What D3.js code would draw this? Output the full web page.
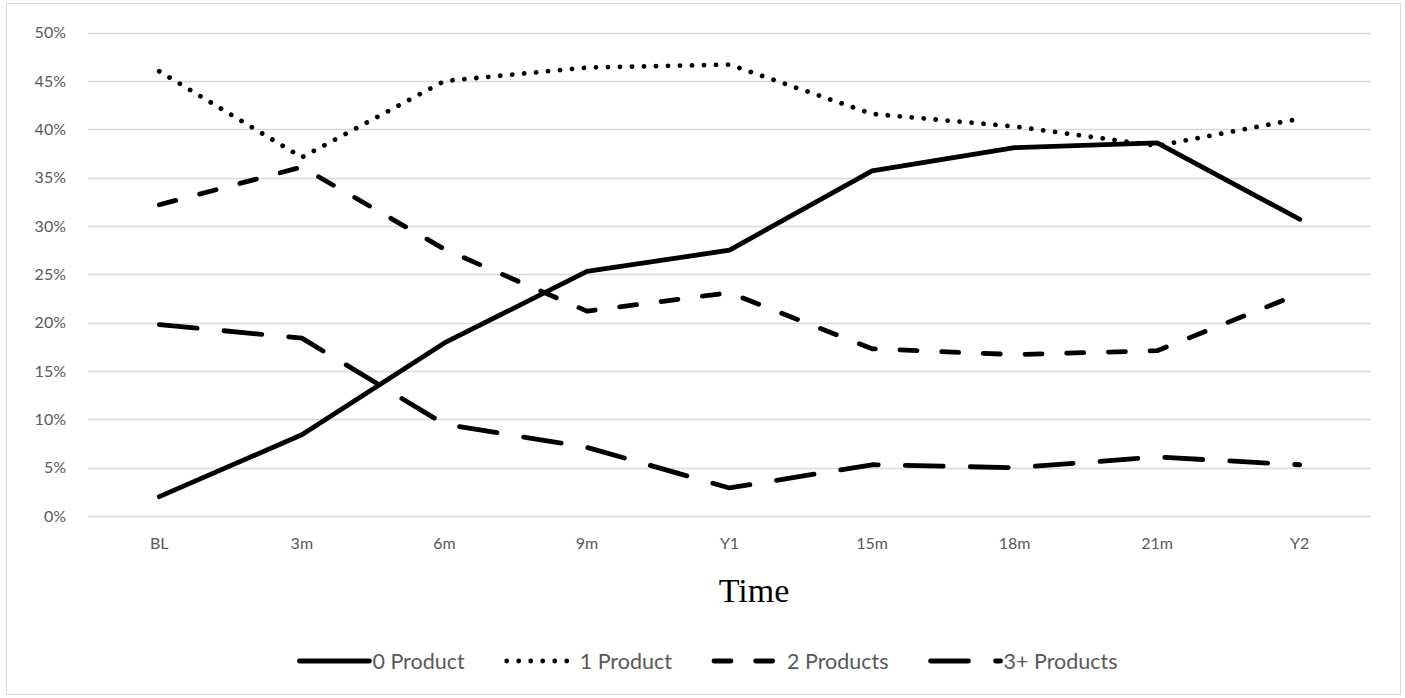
<!DOCTYPE html>
<html>
<head>
<meta charset="utf-8">
<script src="https://cdn.jsdelivr.net/npm/d3@7"></script>
<style>
  html, body { margin: 0; padding: 0; background: #fff; }
  svg { display: block; }
</style>
</head>
<body>
<svg id="chart" width="1405" height="698"></svg>
<script>
const categories = ["BL", "3m", "6m", "9m", "Y1", "15m", "18m", "21m", "Y2"];
const seriesNames = ["0 Product", "1 Product", "2 Products", "3+ Products"];
const product0 = [2.0, 8.4, 17.9, 25.3, 27.5, 35.7, 38.1, 38.6, 30.7];
const product1 = [46.0, 37.1, 45.0, 46.4, 46.7, 41.6, 40.3, 38.3, 41.1];
const product2 = [32.2, 36.1, 27.6, 21.2, 23.1, 17.3, 16.7, 17.1, 23.0];
const product3 = [19.8, 18.4, 9.5, 7.1, 2.9, 5.3, 5.0, 6.1, 5.3];
const yTicks = [0, 5, 10, 15, 20, 25, 30, 35, 40, 45, 50];
const xTitle = "Time";

const seriesValues = [product0, product1, product2, product3];
const dashes = [null, "0.01 12", "17 24.7", "38 27"];

const svg = d3.select("#chart");
const font = "Lato, 'Open Sans', sans-serif";
const grey = "#595959";

// chart border
svg.append("rect")
  .attr("x", 6.5).attr("y", 3.5).attr("width", 1394).attr("height", 691)
  .attr("fill", "#fff").attr("stroke", "#d9d9d9").attr("stroke-width", 1);

const plotL = 88, plotR = 1371, plotT = 32.7, plotB = 516;

const x = d3.scaleBand().domain(categories).range([plotL, plotR]).padding(0);
const y = d3.scaleLinear().domain([0, 50]).range([plotB, plotT]);

// gridlines
svg.append("g")
  .selectAll("line").data(yTicks).join("line")
  .attr("x1", plotL).attr("x2", plotR)
  .attr("y1", d => Math.round(y(d)) + 0.5).attr("y2", d => Math.round(y(d)) + 0.5)
  .attr("stroke", "#d9d9d9").attr("stroke-width", 1.3);

// y axis
const yAxis = d3.axisLeft(y).tickValues(yTicks).tickFormat(d => d + "%").tickSize(0).tickPadding(0);
const gy = svg.append("g").attr("transform", `translate(66,0)`).call(yAxis);
gy.select(".domain").remove();
gy.selectAll("text").attr("fill", grey).style("font-family", font).style("font-size", "16px");

// x axis
const xAxis = d3.axisBottom(x).tickSize(0).tickPadding(0);
const gx = svg.append("g").attr("transform", `translate(0,${plotB + 22})`).call(xAxis);
gx.select(".domain").remove();
gx.selectAll("text").attr("fill", grey).style("font-family", font).style("font-size", "16px");

// axis title
svg.append("text")
  .attr("x", 754).attr("y", 602)
  .attr("text-anchor", "middle")
  .style("font-family", "'Liberation Serif', 'Times New Roman', serif")
  .style("font-size", "34px")
  .attr("fill", "#000")
  .text(xTitle);

// lines
const line = d3.line()
  .x((d, i) => x(categories[i]) + x.bandwidth() / 2)
  .y(d => y(d));

const gLines = svg.append("g");
seriesValues.forEach((vals, k) => {
  gLines.append("path")
    .datum(vals)
    .attr("d", line)
    .attr("fill", "none")
    .attr("stroke", "#000")
    .attr("stroke-width", 4.8)
    .attr("stroke-linecap", "round")
    .attr("stroke-linejoin", "round")
    .attr("stroke-dasharray", dashes[k]);
});

// legend
const legY = 661;
const sampleLen = 70;
const leg = svg.append("g");
const items = seriesNames.map((name, k) => {
  const g = leg.append("g");
  g.append("line")
    .attr("x1", 0).attr("x2", sampleLen)
    .attr("y1", 0).attr("y2", 0)
    .attr("stroke", "#000").attr("stroke-width", 4.8)
    .attr("stroke-linecap", "round")
    .attr("stroke-dasharray", dashes[k]);
  const t = g.append("text")
    .attr("x", sampleLen + 3).attr("y", 0).attr("dy", "0.35em")
    .attr("fill", grey).style("font-family", font).style("font-size", "21.5px")
    .text(name);
  return { g, w: sampleLen + 3 + t.node().getComputedTextLength() };
});
const gap = 42;
const total = d3.sum(items, d => d.w) + gap * (items.length - 1);
let cx = 708.5 - total / 2;
items.forEach(it => {
  it.g.attr("transform", `translate(${cx},${legY})`);
  cx += it.w + gap;
});
</script>
</body>
</html>
